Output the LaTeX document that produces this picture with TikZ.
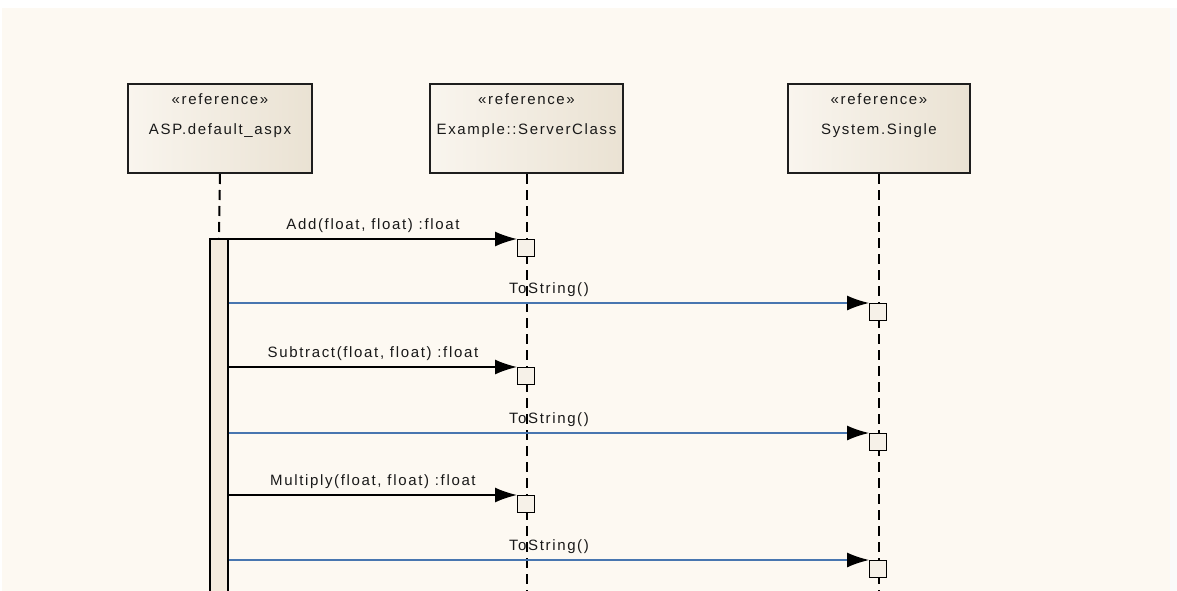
\documentclass[tikz,border=0pt]{standalone}
\usepackage{fontspec}
\setmainfont{Liberation Sans}[LetterSpace=11]
\usetikzlibrary{arrows.meta,calc}
\definecolor{bgc}{RGB}{253,249,242}
\definecolor{boxl}{RGB}{249,245,238}
\definecolor{boxr}{RGB}{234,226,211}
\definecolor{actc}{RGB}{245,235,222}
\definecolor{sqc}{RGB}{246,241,232}
\definecolor{edge}{RGB}{30,30,30}
\definecolor{bluemsg}{RGB}{72,118,176}
\definecolor{txt}{RGB}{25,25,25}
\begin{document}
\begin{tikzpicture}[x=1pt,y=-1pt,
  every node/.style={font=\fontsize{15}{18}\selectfont, text=txt},
  objbox/.style={draw=edge, line width=2pt, left color=boxl, right color=boxr, anchor=north west, inner sep=0pt},
  lifeline/.style={draw=black, line width=2pt, dash pattern=on 10pt off 6pt},
  actbox/.style={draw=black, line width=1.8pt, fill=actc, anchor=north, minimum width=18pt, minimum height=360pt, inner sep=0pt},
  sqbox/.style={draw=black, line width=1.3pt, fill=sqc, anchor=north west, minimum width=17pt, minimum height=17pt, inner sep=0pt},
  callmsg/.style={draw=black, line width=1.6pt, -{Latex[length=22pt,width=15pt,color=black]}},
  retmsg/.style={draw=bluemsg, line width=1.3pt, -{Latex[length=22pt,width=15pt,color=black]}},
  lab/.style={midway, anchor=base, yshift=9.5pt, inner sep=0pt}
]
\useasboundingbox (0,0) rectangle (1177,591);
\fill[white] (0,0) rectangle (1177,591);
\fill[bgc] (2,8) rectangle (1170,591);
\fill[black!2] (1170,8) rectangle (1177,591);

% object boxes
\node[objbox, minimum width=184pt, minimum height=89pt] (b1) at (127,83) {};
\node[objbox, minimum width=193pt, minimum height=89pt] (b2) at (429,83) {};
\node[objbox, minimum width=182pt, minimum height=89pt] (b3) at (787,83) {};
\foreach \b/\n in {b1/ASP.default\_aspx, b2/Example::ServerClass, b3/System.Single}{
  \node[anchor=base, inner sep=0pt] (\b s) at ($(\b.north)+(0,22)$) {«reference»};
  \node[anchor=base, inner sep=0pt] (\b n) at ($(\b.north)+(0,52)$) {\n};
}

% activation and lifelines
\node[actbox] (act) at (219,238) {};
\coordinate (e2) at (526,591);
\coordinate (e3) at (878,591);
\draw[lifeline] (b1.south) -- (act.north);
\draw[lifeline] (b2.south) -- (b2.south |- e2);
\draw[lifeline] (b3.south) -- (b3.south |- e3);

% target squares
\node[sqbox] (s1) at (517,239) {};
\node[sqbox] (s2) at (869,303) {};
\node[sqbox] (s3) at (517,367) {};
\node[sqbox] (s4) at (869,433) {};
\node[sqbox] (s5) at (517,495) {};
\node[sqbox] (s6) at (869,560) {};

% messages
\draw[callmsg] (s1.north west -| act.east) -- node[lab] (t1) {Add(float, float) :float} (s1.north west);
\draw[retmsg] (s2.north west -| act.east) -- node[lab] (t2) {ToString()} (s2.north west);
\draw[callmsg] (s3.north west -| act.east) -- node[lab] (t3) {Subtract(float, float) :float} (s3.north west);
\draw[retmsg] (s4.north west -| act.east) -- node[lab] (t4) {ToString()} (s4.north west);
\draw[callmsg] (s5.north west -| act.east) -- node[lab] (t5) {Multiply(float, float) :float} (s5.north west);
\draw[retmsg] (s6.north west -| act.east) -- node[lab] (t6) {ToString()} (s6.north west);
\end{tikzpicture}
\end{document}
